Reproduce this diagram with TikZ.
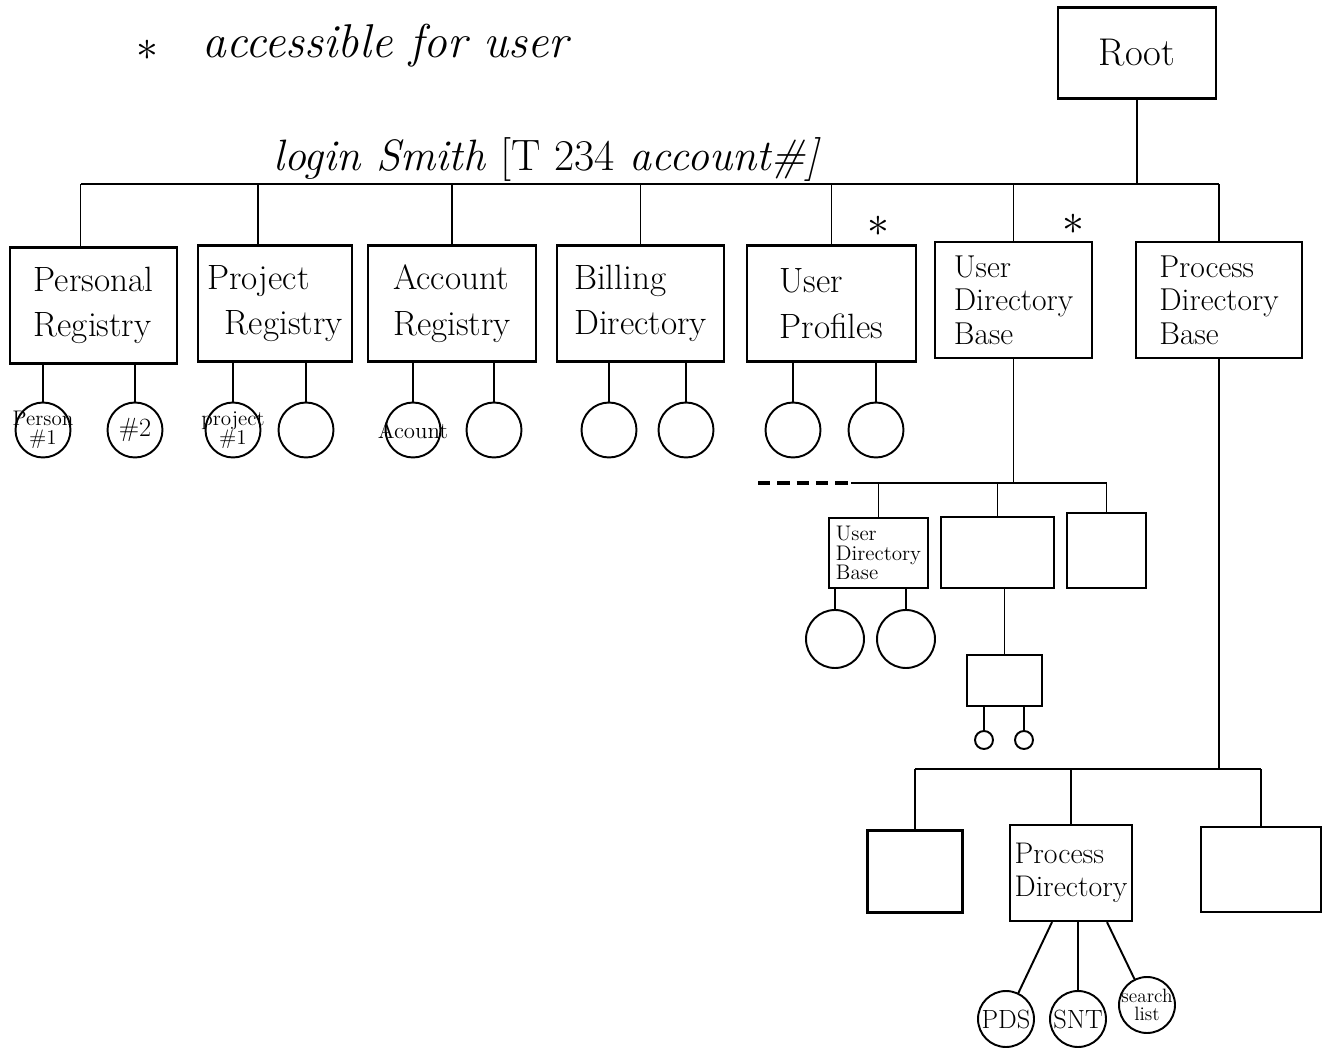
\documentclass[tikz,border=0pt]{standalone}
\usepackage{fontspec}
\usetikzlibrary{positioning,calc}

\begin{document}
\begin{tikzpicture}[
    x=0.02cm, y=-0.02cm,
    line width=1.1pt,
    dirbox/.style={rectangle, draw, line width=1.3pt, minimum width=#1,
                   minimum height=2.32cm, align=left, inner sep=2pt,
                   font=\fontsize{20}{26}\selectfont},
    dirbox/.default=3.34cm,
    basebox/.style={dirbox=#1, font=\fontsize{18}{19}\selectfont},
    plainbox/.style={rectangle, draw, line width=1.3pt, align=left, inner sep=1pt},
    entry/.style={circle, draw, minimum size=1.1cm, inner sep=0pt, align=center,
                  font=\fontsize{12}{11}\selectfont},
    tinyentry/.style={circle, draw, minimum size=0.36cm, inner sep=0pt},
    handnote/.style={font=\itshape\fontsize{25}{30}\selectfont, inner sep=1pt},
    accessmark/.style={font=\fontsize{24}{24}\selectfont, inner sep=0pt},
    busdash/.style={dash pattern=on 7pt off 4pt, line width=1.8pt}
]
\useasboundingbox (0,0) rectangle (1322,1050);

% legend and login line
\node[accessmark] (legendmark) at (147,50) {$\ast$};
\node[handnote, anchor=west, font=\itshape\fontsize{27}{30}\selectfont] (legend) at (200,46) {accessible for user};
\node[handnote] (login) at (546,160) {login Smith {\upshape[T 234} account\#]};

% root
\node[plainbox, minimum width=3.16cm, minimum height=1.82cm,
      font=\fontsize{22}{22}\selectfont] (root) at (1137,53) {Root};
\coordinate (topbus) at (0,184);

% first level
\node[dirbox] (personal) at (93.5,305.5) {Personal\\Registry};
\node[dirbox=3.08cm] (project) at (275,303.5) {Project\\\hspace{0.5em}Registry};
\node[dirbox=3.36cm] (account) at (452,303.5) {Account\\Registry};
\node[dirbox] (billing) at (640.5,303.5) {Billing\\Directory};
\node[dirbox=3.38cm] (profiles) at (831.5,303.5) {User\\Profiles};
\node[basebox=3.14cm] (userbase) at (1013.5,300) {User\\Directory\\Base};
\node[basebox=3.32cm] (procbase) at (1219,300) {Process\\Directory\\Base};

\node[accessmark] (profilesmark) at (878,226) {$\ast$};
\node[accessmark] (userbasemark) at (1073,224) {$\ast$};

\coordinate (personaldrop) at ($(personal.north)+(-13,0)$);
\coordinate (projectdrop) at ($(project.north)+(-17,0)$);

\draw (root.south) -- (root.south |- topbus);
\draw (personaldrop |- topbus) -- (procbase.north |- topbus);
\foreach \d in {personaldrop, projectdrop, account.north, billing.north,
                profiles.north, userbase.north, procbase.north}
    \draw (\d) -- (\d |- topbus);

% entries
\node[entry] (person1) at (43,430) {\makebox[0pt]{Person}\\\makebox[0pt]{\#1}};
\node[entry, font=\fontsize{15}{15}\selectfont] (person2) at (135,430) {\#2};
\node[entry] (project1) at (233,430) {\makebox[0pt]{project}\\\makebox[0pt]{\#1}};
\node[entry] (project2) at (306,430) {};
\node[entry, font=\fontsize{13}{13}\selectfont] (account1) at (413,430) {\makebox[0pt]{Acount}};
\node[entry] (account2) at (494,430) {};
\node[entry] (billing1) at (609,430) {};
\node[entry] (billing2) at (686,430) {};
\node[entry] (profiles1) at (793,430) {};
\node[entry] (profiles2) at (876,430) {};

\foreach \e/\b in {person1/personal, person2/personal, project1/project,
                   project2/project, account1/account, account2/account,
                   billing1/billing, billing2/billing, profiles1/profiles,
                   profiles2/profiles}
    \draw (\e) -- (\e |- \b.south);

% user directory branch
\coordinate (midbus) at (0,483);
\coordinate (busgap) at (851,483);
\coordinate (busend) at (758,483);

\node[plainbox, minimum width=1.98cm, minimum height=1.4cm,
      font=\fontsize{12}{11}\selectfont] (userbasesub) at (878.5,553) {User\\Directory\\Base};
\node[plainbox, minimum width=2.26cm, minimum height=1.42cm] (midbox) at (997.5,552.5) {};
\node[plainbox, minimum width=1.58cm, minimum height=1.5cm] (sidebox) at (1106.5,550.5) {};

\draw (userbase.south) -- (userbase.south |- midbus);
\draw (busgap) -- (sidebox.north |- midbus);
\draw[busdash] (busend) -- (busgap);
\foreach \b in {userbasesub, midbox, sidebox}
    \draw (\b.north) -- (\b.north |- midbus);

\node[entry, minimum size=1.16cm] (subentry1) at (835,639) {};
\node[entry, minimum size=1.16cm] (subentry2) at (906,639) {};
\foreach \e in {subentry1, subentry2}
    \draw (\e) -- (\e |- userbasesub.south);

\node[plainbox, minimum width=1.5cm, minimum height=1.02cm] (lowbox) at (1004.5,680.5) {};
\draw (lowbox.north |- midbox.south) -- (lowbox.north);

\node[tinyentry] (tiny1) at (984,740) {};
\node[tinyentry] (tiny2) at (1024,740) {};
\foreach \e in {tiny1, tiny2}
    \draw (\e) -- (\e |- lowbox.south);

% process directory branch
\coordinate (lowbus) at (0,769);

\node[plainbox, minimum width=1.9cm, minimum height=1.64cm] (leftproc) at (915,871.5) {};
\node[plainbox, minimum width=2.44cm, minimum height=1.92cm,
      font=\fontsize{17}{19}\selectfont] (procdir) at (1071,873) {Process\\Directory};
\node[plainbox, minimum width=2.4cm, minimum height=1.7cm] (rightproc) at (1261,869.5) {};

\draw (procbase.south) -- (procbase.south |- lowbus);
\draw (leftproc.north |- lowbus) -- (rightproc.north |- lowbus);
\foreach \b in {leftproc, procdir, rightproc}
    \draw (\b.north) -- (\b.north |- lowbus);

\node[entry, minimum size=1.12cm, font=\fontsize{15}{15}\selectfont] (pds) at (1006,1019) {\makebox[0pt]{PDS}};
\node[entry, minimum size=1.12cm, font=\fontsize{15}{15}\selectfont] (snt) at (1078,1019) {\makebox[0pt]{SNT}};
\node[entry, minimum size=1.12cm, font=\fontsize{11}{10}\selectfont] (searchlist) at (1147,1005)
    {\makebox[0pt]{search}\\\makebox[0pt]{list}};

\draw ($(procdir.south)+(-19,0)$) -- (pds);
\draw (procdir.south -| snt) -- (snt);
\draw ($(procdir.south)+(36,0)$) -- (searchlist);

\end{tikzpicture}
\end{document}
